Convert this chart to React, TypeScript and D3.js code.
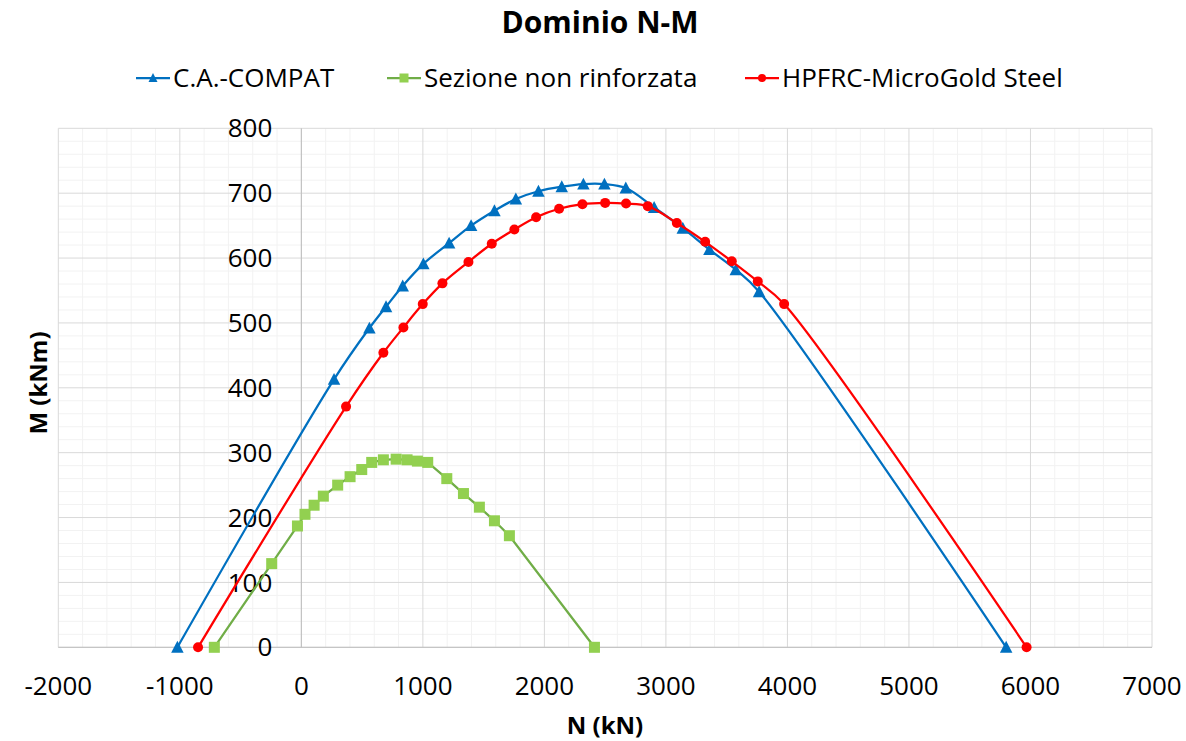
import React from "react";
import * as d3 from "d3";

const xTicks = [-2000, -1000, 0, 1000, 2000, 3000, 4000, 5000, 6000, 7000];
const yTicks = [0, 100, 200, 300, 400, 500, 600, 700, 800];

const seriesNames = ["C.A.-COMPAT", "Sezione non rinforzata", "HPFRC-MicroGold Steel"];

const blueN = [-1020, 269, 560, 697, 834, 1004, 1216, 1397, 1589, 1765, 1951, 2143, 2321, 2494, 2670, 2903, 3139, 3358, 3575, 3767, 5800];
const blueM = [0, 413, 492, 525, 557, 591, 623, 650, 673, 691, 703, 710, 714, 714, 708, 678, 646, 613, 582, 548, 0];

const greenN = [-716, -244, -32, 30, 105, 181, 299, 401, 497, 579, 675, 780, 870, 955, 1040, 1197, 1334, 1465, 1589, 1712, 2412];
const greenM = [0, 129, 187, 205, 219, 233, 250, 263, 274, 285, 289, 290, 289, 287, 285, 260, 237, 216, 195, 172, 0];

const redN = [-850, 368, 675, 840, 999, 1161, 1375, 1567, 1753, 1932, 2121, 2313, 2500, 2672, 2851, 3090, 3323, 3542, 3756, 3973, 5968];
const redM = [0, 371, 454, 493, 529, 561, 594, 622, 644, 663, 676, 683, 685, 684, 680, 654, 625, 595, 564, 529, 0];

const FONT = "'Open Sans', sans-serif";

type Pt = [number, number];

function Marker({ kind, x, y, fill, size }: { kind: string; x: number; y: number; fill: string; size: number }) {
  if (kind === "tri") {
    const h = size * 0.87;
    return (
      <path
        d={`M${x},${y - h / 2 - 1} L${x + size / 2},${y + h / 2} L${x - size / 2},${y + h / 2} Z`}
        fill={fill}
      />
    );
  }
  if (kind === "sq") {
    return <rect x={x - size / 2} y={y - size / 2} width={size} height={size} fill={fill} />;
  }
  return <circle cx={x} cy={y} r={size / 2} fill={fill} />;
}

export default function App() {
  const W = 1186;
  const H = 741;
  const x = d3.scaleLinear().domain([-2000, 7000]).range([58.3, 1152]);
  const y = d3.scaleLinear().domain([0, 800]).range([647.3, 128.3]);

  const minorX = d3.range(-2000, 7001, 200).filter((v) => v % 1000 !== 0);
  const minorY = d3.range(0, 801, 20).filter((v) => v % 100 !== 0);

  const smooth = d3
    .line<Pt>()
    .x((d) => x(d[0]))
    .y((d) => y(d[1]))
    .curve(d3.curveCatmullRom.alpha(0.5));
  const straight = d3
    .line<Pt>()
    .x((d) => x(d[0]))
    .y((d) => y(d[1]));

  const series = [
    { name: seriesNames[0], pts: blueN.map((n, i) => [n, blueM[i]] as Pt), line: "#0070C0", fill: "#0070C0", kind: "tri", size: 12.5, gen: smooth },
    { name: seriesNames[1], pts: greenN.map((n, i) => [n, greenM[i]] as Pt), line: "#70AD47", fill: "#92D050", kind: "sq", size: 11, gen: straight },
    { name: seriesNames[2], pts: redN.map((n, i) => [n, redM[i]] as Pt), line: "#FF0000", fill: "#FF0000", kind: "circ", size: 10, gen: smooth },
  ];

  const legendX = [136, 387, 745];

  return (
    <div style={{ position: "fixed", left: 0, top: 0 }}>
      <svg width={W} height={H} style={{ display: "block", background: "#fff" }} fontFamily={FONT}>
        <rect x={0} y={0} width={W} height={H} fill="#fff" />
        {/* minor grid */}
        {minorX.map((v) => (
          <line key={"mx" + v} x1={x(v)} x2={x(v)} y1={y(800)} y2={y(0)} stroke="#F2F2F2" strokeWidth={1} />
        ))}
        {minorY.map((v) => (
          <line key={"my" + v} x1={x(-2000)} x2={x(7000)} y1={y(v)} y2={y(v)} stroke="#F2F2F2" strokeWidth={1} />
        ))}
        {/* major grid */}
        {xTicks.map((v) => (
          <line key={"gx" + v} x1={x(v)} x2={x(v)} y1={y(800)} y2={y(0)} stroke="#D9D9D9" strokeWidth={1} />
        ))}
        {yTicks.map((v) => (
          <line key={"gy" + v} x1={x(-2000)} x2={x(7000)} y1={y(v)} y2={y(v)} stroke="#D9D9D9" strokeWidth={1} />
        ))}
        {/* axes */}
        <line x1={x(-2000)} x2={x(7000)} y1={y(0)} y2={y(0)} stroke="#BFBFBF" strokeWidth={1} />
        <line x1={x(0)} x2={x(0)} y1={y(800)} y2={y(0)} stroke="#BFBFBF" strokeWidth={1} />

        {/* tick labels */}
        {yTicks.map((v) => (
          <text key={"ty" + v} x={x(0) - 29} y={y(v)} dy="0.35em" textAnchor="end" fontSize={26} fill="#000">
            {v}
          </text>
        ))}
        {xTicks.map((v) => (
          <text key={"tx" + v} x={x(v)} y={695} textAnchor="middle" fontSize={26} fill="#000">
            {v}
          </text>
        ))}

        {/* series */}
        {series.map((s) => (
          <g key={s.name}>
            <path d={s.gen(s.pts) || ""} fill="none" stroke={s.line} strokeWidth={2.25} />
            {s.pts.map((p, i) => (
              <Marker key={i} kind={s.kind} x={x(p[0])} y={y(p[1])} fill={s.fill} size={s.size} />
            ))}
          </g>
        ))}

        {/* title */}
        <text x={600} y={33} textAnchor="middle" fontSize={30} fontWeight="bold" fill="#000">
          Dominio N-M
        </text>

        {/* legend */}
        {series.map((s, i) => (
          <g key={"lg" + i}>
            <line x1={legendX[i]} x2={legendX[i] + 34} y1={78} y2={78} stroke={s.line} strokeWidth={2.25} />
            <Marker kind={s.kind} x={legendX[i] + 17} y={78} fill={s.fill} size={s.kind === "circ" ? 8 : 9} />
            <text x={legendX[i] + 37} y={87} fontSize={26} fill="#000">
              {s.name}
            </text>
          </g>
        ))}

        {/* axis titles */}
        <text x={605} y={734} textAnchor="middle" fontSize={24} fontWeight="bold" fill="#000">
          N (kN)
        </text>
        <text
          transform={`translate(47,383) rotate(-90)`}
          textAnchor="middle"
          fontSize={24}
          fontWeight="bold"
          fill="#000"
        >
          M (kNm)
        </text>
      </svg>
    </div>
  );
}
